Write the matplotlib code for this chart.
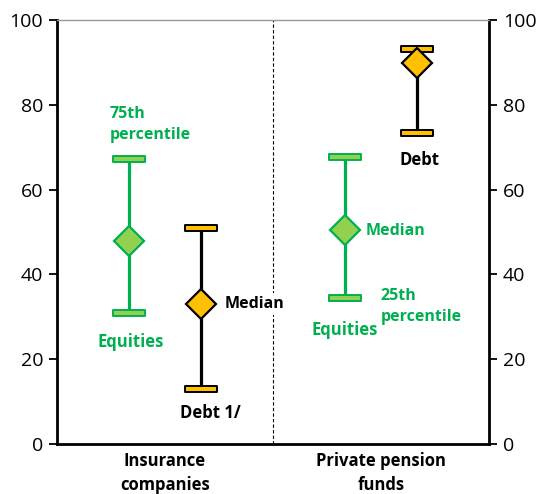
import numpy as np
import matplotlib.pyplot as plt
from matplotlib.path import Path

plt.rcParams['font.family'] = ['Open Sans', 'DejaVu Sans']

categories = ["Insurance\ncompanies", "Private pension\nfunds"]
equity_p25 = [30.8, 34.5]
equity_median = [47.9, 50.5]
equity_p75 = [67.3, 67.8]
debt_p25 = [12.9, 73.4]
debt_median = [33.0, 89.8]
debt_p75 = [51.0, 93.1]

GREEN = "#00B050"
LGREEN = "#92D050"
GOLD = "#FFC000"

# flat bar used as the whisker cap
cap = Path([(-1, -0.2), (1, -0.2), (1, 0.2), (-1, 0.2), (-1, -0.2)],
           [Path.MOVETO, Path.LINETO, Path.LINETO, Path.LINETO, Path.CLOSEPOLY])

fig = plt.figure(figsize=(5.41, 4.94), dpi=100)
ax = fig.add_axes([0.1054, 0.1012, 0.7985, 0.8583])

centers = np.arange(len(categories)) + 0.5
off = 1 / 6

def draw_range(x, lo, med, hi, line_c, fill_c, edge_c):
    ax.vlines(x, lo, hi, color=line_c, lw=2.3, zorder=2)
    ax.plot(x, lo, ls='none', marker=cap, ms=22.5, mfc=fill_c, mec=edge_c, mew=1.4, zorder=3)
    ax.plot(x, hi, ls='none', marker=cap, ms=22.5, mfc=fill_c, mec=edge_c, mew=1.4, zorder=3)
    ax.plot(x, med, ls='none', marker='D', ms=15.5, mfc=fill_c, mec=edge_c, mew=1.6, zorder=4)

draw_range(centers - off, equity_p25, equity_median, equity_p75, GREEN, LGREEN, GREEN)
draw_range(centers + off, debt_p25, debt_median, debt_p75, "black", GOLD, "black")

ax.axvline(1.0, color='black', lw=0.8, ls=(0, (3, 2)), zorder=1)

ax.set_xlim(0, 2)
ax.set_ylim(0, 100)
ax.set_yticks(np.arange(0, 101, 20))
ax.set_xticks(centers)
ax.set_xticklabels(categories, fontsize=12, fontweight='bold', linespacing=1.4)
ax.tick_params(axis='x', length=0, pad=6)
ax.tick_params(axis='y', direction='out', length=6, width=1.3, labelsize=14,
               left=True, right=True, labelleft=True, labelright=True, pad=4)

for side in ['left', 'right', 'bottom']:
    ax.spines[side].set_linewidth(2)
    ax.spines[side].set_color('black')
ax.spines['top'].set_linewidth(1)
ax.spines['top'].set_color('#999999')

bold = dict(fontweight='bold', fontsize=11.5)
ax.text(0.245, 75.3, "75th\npercentile", color=GREEN, ha='left', va='center', linespacing=1.45, **bold)
ax.text(0.342, 24.0, "Equities", color=GREEN, ha='center', va='center', fontweight='bold', fontsize=12)
ax.text(0.774, 33.0, "Median", color='black', ha='left', va='center', zorder=5,
        bbox=dict(fc='white', ec='none', pad=2), **bold)
ax.text(0.712, 7.3, "Debt 1/", color='black', ha='center', va='center', fontweight='bold', fontsize=12)
ax.text(1.676, 67.0, "Debt", color='black', ha='center', va='center', fontweight='bold', fontsize=12)
ax.text(1.429, 50.3, "Median", color=GREEN, ha='left', va='center', **bold)
ax.text(1.499, 32.5, "25th\npercentile", color=GREEN, ha='left', va='center', linespacing=1.45, **bold)
ax.text(1.331, 26.9, "Equities", color=GREEN, ha='center', va='center', fontweight='bold', fontsize=12)

fig.savefig("out.png", dpi=100)
